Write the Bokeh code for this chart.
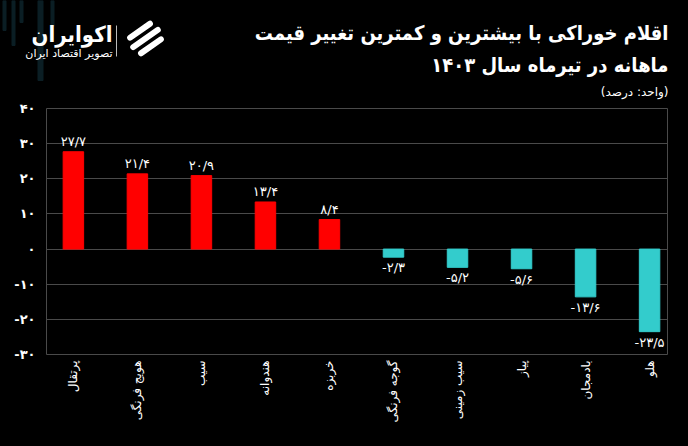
import math
from bokeh.plotting import figure
from bokeh.layouts import column
from bokeh.models import Range1d, FixedTicker, ColumnDataSource
from bokeh.core.properties import value
from bokeh.embed import file_html
from bokeh.resources import INLINE

categories = ["پرتقال", "هویج فرنگی", "سیب", "هندوانه", "خربزه",
              "گوجه فرنگی", "سیب زمینی", "پیاز", "بادمجان", "هلو"]
values = [27.7, 21.4, 20.9, 13.4, 8.4, -2.3, -5.2, -5.6, -13.6, -23.5]
y_ticks = [-30, -20, -10, 0, 10, 20, 30, 40]
title_line1 = "اقلام خوراکی با بیشترین و کمترین تغییر قیمت"
title_line2 = "ماهانه در تیرماه سال ۱۴۰۳"
unit_text = "(واحد: درصد)"
brand = "اکوایران"
brand_sub = "تصویر اقتصاد ایران"

FA = str.maketrans("0123456789", "۰۱۲۳۴۵۶۷۸۹")
def fa(s):
    return s.translate(FA)

FONT = "DejaVu Sans"
TFONT = "DejaVu Sans Condensed"
RED = "#FF0000"
TEAL = "#33CCCC"
GRID = "#4a4a4a"
BG = "#000000"
DECO = "#0b1e24"
W, HEAD_H, CH_H = 688, 100, 346

# ---------------- header (pixel-like coordinates, y grows downward) ----------------
h = figure(width=W, height=HEAD_H, x_range=Range1d(0, W), y_range=Range1d(HEAD_H, 0),
           output_backend="svg", toolbar_location=None, x_axis_type=None, y_axis_type=None,
           background_fill_color=BG, border_fill_color=BG,
           min_border_left=0, min_border_right=0, min_border_top=0, min_border_bottom=0)
h.outline_line_color = None
h.grid.visible = False
h.frame_align = False

# faint decorative stripes behind the logo
h.vbar(x=[4, 13, 21, 40, 52], width=[3, 3, 3, 5, 3], top=[0, 0, 0, 0, 0],
       bottom=[30, 45, 22, 80, 26], color=DECO)

def htext(t, x, y, size, font=FONT, style="bold"):
    h.text(x=[x], y=[y], text=[t], text_align="right", text_baseline="middle",
           text_color="white", text_font=value(font), text_font_size=size,
           text_font_style=style)

htext(title_line1, 668, 32, "20px", TFONT)
htext(title_line2, 668, 64, "20px", TFONT)
htext(unit_text, 668, 91, "12px", FONT, "normal")
htext(brand, 112, 34, "22px", TFONT)
htext(brand_sub, 112, 53, "11px", FONT, "normal")
h.segment(x0=[116], y0=[25], x1=[116], y1=[56], line_color="#bbbbbb", line_width=1)

# logo mark: three slanted stripes inside a circle
cx, cy, r = 145, 38, 17
ang = math.radians(35)
ux, uy = math.cos(ang), -math.sin(ang)
nx, ny = -uy, ux
xs_l, ys_l = [], []
for d in (-9.5, 0, 9.5):
    half = math.sqrt(max(r * r - d * d, 0)) - 2
    mx, my = cx + nx * d, cy + ny * d
    xs_l.append([mx - ux * half, mx + ux * half])
    ys_l.append([my - uy * half, my + uy * half])
h.multi_line(xs=xs_l, ys=ys_l, line_color="white", line_width=6, line_cap="round")

# ---------------- chart ----------------
xs = list(range(len(categories)))
labels = [fa(f"{v:.1f}".replace(".", "/")) for v in values]
colors = [RED if v >= 0 else TEAL for v in values]

p = figure(width=W, height=CH_H, x_range=Range1d(-0.42, 9.28), y_range=Range1d(-30, 40),
           output_backend="svg", toolbar_location=None,
           background_fill_color=BG, border_fill_color=BG,
           min_border_left=46, min_border_right=21, min_border_top=8, min_border_bottom=92)
p.outline_line_color = GRID
p.frame_align = False

src = ColumnDataSource(dict(x=xs, top=values, color=colors, label=labels))
p.vbar(x="x", top="top", width=0.32, color="color", source=src)

pos = ColumnDataSource(dict(x=[x for x, v in zip(xs, values) if v >= 0],
                            y=[v for v in values if v >= 0],
                            t=[l for l, v in zip(labels, values) if v >= 0]))
neg = ColumnDataSource(dict(x=[x for x, v in zip(xs, values) if v < 0],
                            y=[v for v in values if v < 0],
                            t=[l for l, v in zip(labels, values) if v < 0]))
p.text(x="x", y="y", text="t", source=pos, text_align="center", text_baseline="bottom",
       y_offset=-3, text_color="white", text_font=value(FONT), text_font_size="13px")
p.text(x="x", y="y", text="t", source=neg, text_align="center", text_baseline="top",
       y_offset=3, text_color="white", text_font=value(FONT), text_font_size="13px")

p.xgrid.grid_line_color = None
p.ygrid.ticker = FixedTicker(ticks=y_ticks)
p.ygrid.grid_line_color = GRID

p.yaxis.ticker = FixedTicker(ticks=y_ticks)
p.yaxis.major_label_overrides = {t: fa(str(t)) for t in y_ticks}
p.xaxis.ticker = FixedTicker(ticks=xs)
p.xaxis.major_label_overrides = {x: c for x, c in zip(xs, categories)}
p.xaxis.major_label_orientation = math.pi / 2
for ax in (p.xaxis, p.yaxis):
    ax.axis_line_color = None
    ax.major_tick_line_color = None
    ax.minor_tick_line_color = None
    ax.major_label_text_color = "white"
    ax.major_label_text_font = FONT
p.yaxis.major_label_text_font_size = "13px"
p.yaxis.major_label_text_font_style = "bold"
p.xaxis.major_label_text_font_size = "12px"
p.xaxis.major_label_standoff = 0

layout = column(h, p, spacing=0, styles={"background-color": BG})
open("out.html", "w").write(file_html(layout, INLINE))
